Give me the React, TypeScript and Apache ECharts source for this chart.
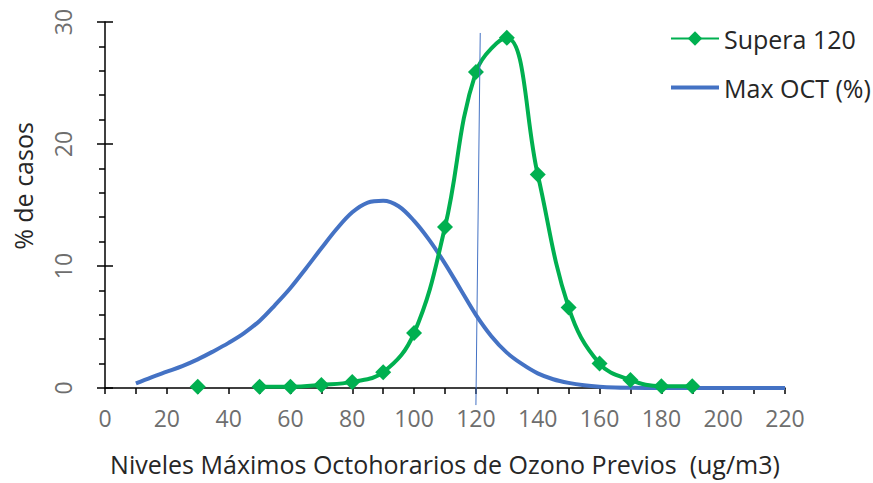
import React, { useEffect, useRef } from 'react';
import * as echarts from 'echarts';

// Max OCT (%) distribution (x in ug/m3, y in % de casos)
const maxOctX = [10, 15, 20, 25, 30, 35, 40, 45, 50, 55, 60, 65, 70, 75, 80, 85, 90, 95, 100, 105, 110, 115, 120, 125, 130, 135, 140, 145, 150, 155, 160, 165, 170, 180, 190, 200, 210, 220];
const maxOctVals = [0.38, 0.88, 1.34, 1.8, 2.35, 3.0, 3.7, 4.5, 5.5, 6.8, 8.2, 9.8, 11.45, 13.05, 14.4, 15.2, 15.35, 14.9, 13.7, 12.1, 10.2, 8.1, 6.0, 4.25, 2.9, 1.95, 1.2, 0.72, 0.42, 0.22, 0.1, 0.04, 0.02, 0, 0, 0, 0, 0];

// Supera 120 distribution
const superaX = [30, 40, 50, 60, 70, 80, 90, 100, 110, 120, 130, 140, 150, 160, 170, 180, 190];
const superaVals = [0.1, null, 0.1, 0.1, 0.25, 0.5, 1.3, 4.5, 13.2, 25.9, 28.7, 17.5, 6.6, 2.0, 0.65, 0.15, 0.15];

// Thin reference line near 120 (top point, bottom point in data units)
const refLine = [121.4, 29.1, 120.0, -1.4];

const seriesNames = ['Supera 120', 'Max OCT (%)'];
const xTitle = 'Niveles Máximos Octohorarios de Ozono Previos  (ug/m3)';
const yTitle = '% de casos';

const FONT = '"Open Sans", sans-serif';
const GREEN = '#00b050';
const BLUE = '#4472c4';
const TICK_COLOR = '#6e6e6e';
const TITLE_COLOR = '#262626';

export default function App() {
  const ref = useRef<HTMLDivElement>(null);

  useEffect(() => {
    document.body.style.margin = '0';
    if (!ref.current) return;
    const chart = echarts.init(ref.current, undefined, { renderer: 'svg' });
    const axisLine = { show: true, lineStyle: { color: '#000', width: 1.5 } };
    chart.setOption({
      animation: false,
      textStyle: { fontFamily: FONT },
      grid: { left: 105, right: 88, top: 22, bottom: 95, containLabel: false },
      legend: {
        data: [
          { name: seriesNames[0] },
          { name: seriesNames[1], icon: 'path://M0,0H100V8.5H0Z' },
        ],
        orient: 'vertical',
        left: 665,
        top: 21,
        itemWidth: 48,
        itemHeight: 18,
        itemGap: 24,
        textStyle: { fontFamily: FONT, fontSize: 25, color: TITLE_COLOR },
      },
      xAxis: {
        type: 'value',
        min: 0,
        max: 220,
        interval: 10,
        axisLine,
        axisTick: { show: true, length: 6, lineStyle: { color: '#000', width: 1.5 } },
        splitLine: { show: false },
        axisLabel: {
          color: TICK_COLOR,
          fontSize: 23,
          fontFamily: FONT,
          margin: 18,
          formatter: (v: number) => (v % 20 === 0 ? String(v) : ''),
        },
        name: xTitle,
        nameLocation: 'middle',
        nameGap: 63,
        nameTextStyle: { color: TITLE_COLOR, fontSize: 25, fontFamily: FONT },
      },
      yAxis: [
        {
          type: 'value',
          min: 0,
          max: 30,
          interval: 10,
          position: 'left',
          axisLine,
          axisTick: { show: true, length: 8, lineStyle: { color: '#000', width: 1.5 } },
          minorTick: { show: true, splitNumber: 5, length: 6, lineStyle: { color: '#000', width: 1.5 } },
          splitLine: { show: false },
          minorSplitLine: { show: false },
          axisLabel: { color: TICK_COLOR, fontSize: 23, fontFamily: FONT, rotate: 90, margin: 31 },
        },
        {
          type: 'value',
          min: 0,
          max: 30,
          interval: 10,
          position: 'left',
          axisLine: { show: false },
          axisTick: { show: true, inside: true, length: 8, lineStyle: { color: '#000', width: 1.5 } },
          splitLine: { show: false },
          axisLabel: { show: false },
        },
      ],
      graphic: [
        {
          type: 'text',
          x: 23,
          y: 186,
          rotation: Math.PI / 2,
          style: {
            text: yTitle,
            font: `25px ${FONT}`,
            fill: TITLE_COLOR,
            textAlign: 'center',
            textVerticalAlign: 'middle',
          },
        },
      ],
      series: [
        {
          name: seriesNames[1],
          type: 'line',
          smooth: 0.35,
          symbol: 'none',
          data: maxOctX.map((x, i) => [x, maxOctVals[i]]),
          lineStyle: { color: BLUE, width: 4 },
          itemStyle: { color: BLUE },
          z: 2,
        },
        {
          name: seriesNames[0],
          type: 'line',
          smooth: 0.4,
          symbol: 'diamond',
          symbolSize: 16,
          showSymbol: true,
          connectNulls: false,
          data: superaX.map((x, i) => [x, superaVals[i] === null ? '-' : superaVals[i]]),
          lineStyle: { color: GREEN, width: 4 },
          itemStyle: { color: GREEN },
          z: 3,
        },
        {
          name: 'ref',
          type: 'custom',
          silent: true,
          clip: false,
          z: 4,
          data: [refLine],
          encode: { x: [0, 2], y: [1, 3] },
          renderItem: (_params: any, api: any) => {
            const p1 = api.coord([api.value(0), api.value(1)]);
            const p2 = api.coord([api.value(2), api.value(3)]);
            return {
              type: 'line',
              shape: { x1: p1[0], y1: p1[1], x2: p2[0], y2: p2[1] },
              style: { stroke: BLUE, lineWidth: 1 },
            };
          },
        },
      ],
    });
    return () => chart.dispose();
  }, []);

  return <div ref={ref} style={{ width: 873, height: 483 }} />;
}
